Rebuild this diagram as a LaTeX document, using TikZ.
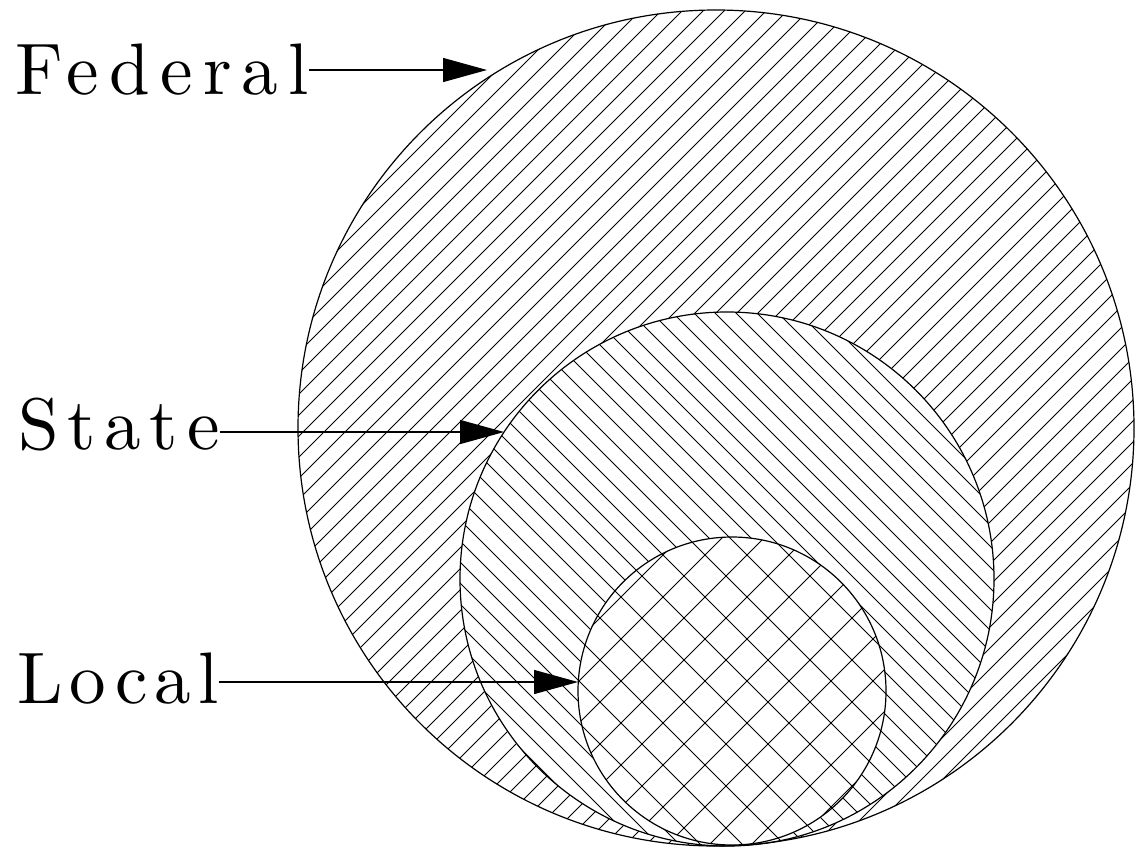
\documentclass[tikz,border=0pt]{standalone}
\usepackage{fontspec}
\usetikzlibrary{arrows.meta}
\newfontfamily\lblfamA{lmroman10-regular}[Extension=.otf,LetterSpace=14]
\newfontfamily\lblfamB{lmroman10-regular}[Extension=.otf,LetterSpace=12]
\newfontfamily\lblfamC{lmroman10-regular}[Extension=.otf,LetterSpace=9.5]
\begin{document}
\begin{tikzpicture}[x=1pt,y=-1pt,
  hatch/.style={line width=1pt,black},
  ring/.style={line width=1.2pt,black},
  lbl/.style={inner sep=0pt,anchor=base west},
  pointer/.style={line width=1.3pt,-{Triangle[length=44pt,width=24pt]}}]
\useasboundingbox (0,0) rectangle (1147,846);
\coordinate (F) at (716,428);
\coordinate (S) at (727,579);
\coordinate (L) at (732,691);
% Federal hatching
\begin{scope}
  \clip (F) circle[radius=418pt];
  \foreach \c in {0,21,...,2000} \draw[hatch] (\c,0) -- (0,\c);
\end{scope}
% State hatching
\fill[white] (S) circle[radius=267pt];
\begin{scope}
  \clip (S) circle[radius=267pt];
  \foreach \c in {-900,-879,...,1200} \draw[hatch] (\c,0) -- (\c+900,900);
\end{scope}
% Local crosshatching
\fill[white] (L) circle[radius=154pt];
\begin{scope}
  \clip (L) circle[radius=154pt];
  \foreach \c in {0,42,...,2000} \draw[hatch] (\c,0) -- (0,\c);
  \foreach \c in {-900,-858,...,1200} \draw[hatch] (\c,0) -- (\c+900,900);
\end{scope}
% outlines
\node[ring,draw,circle,inner sep=0pt,minimum size=836pt] (fed) at (F) {};
\node[ring,draw,circle,inner sep=0pt,minimum size=534pt] (sta) at (S) {};
\node[ring,draw,circle,inner sep=0pt,minimum size=308pt] (loc) at (L) {};
% labels
\node[lbl,font=\lblfamA\fontsize{73}{80}\selectfont] (fedlbl) at (15,94) {Federal};
\node[lbl,font=\lblfamB\fontsize{73}{80}\selectfont] (statelbl) at (18,449) {State};
\node[lbl,font=\lblfamC\fontsize{73}{80}\selectfont] (locallbl) at (17,703) {Local};
\coordinate (fedtip) at (487,70);
\coordinate (statetip) at (504,432);
\coordinate (localtip) at (578,682);
\draw[pointer] (fedlbl.east |- fedtip) -- (fedtip);
\draw[pointer] (statelbl.east |- statetip) -- (statetip);
\draw[pointer] (locallbl.east |- localtip) -- (localtip);
\end{tikzpicture}
\end{document}
